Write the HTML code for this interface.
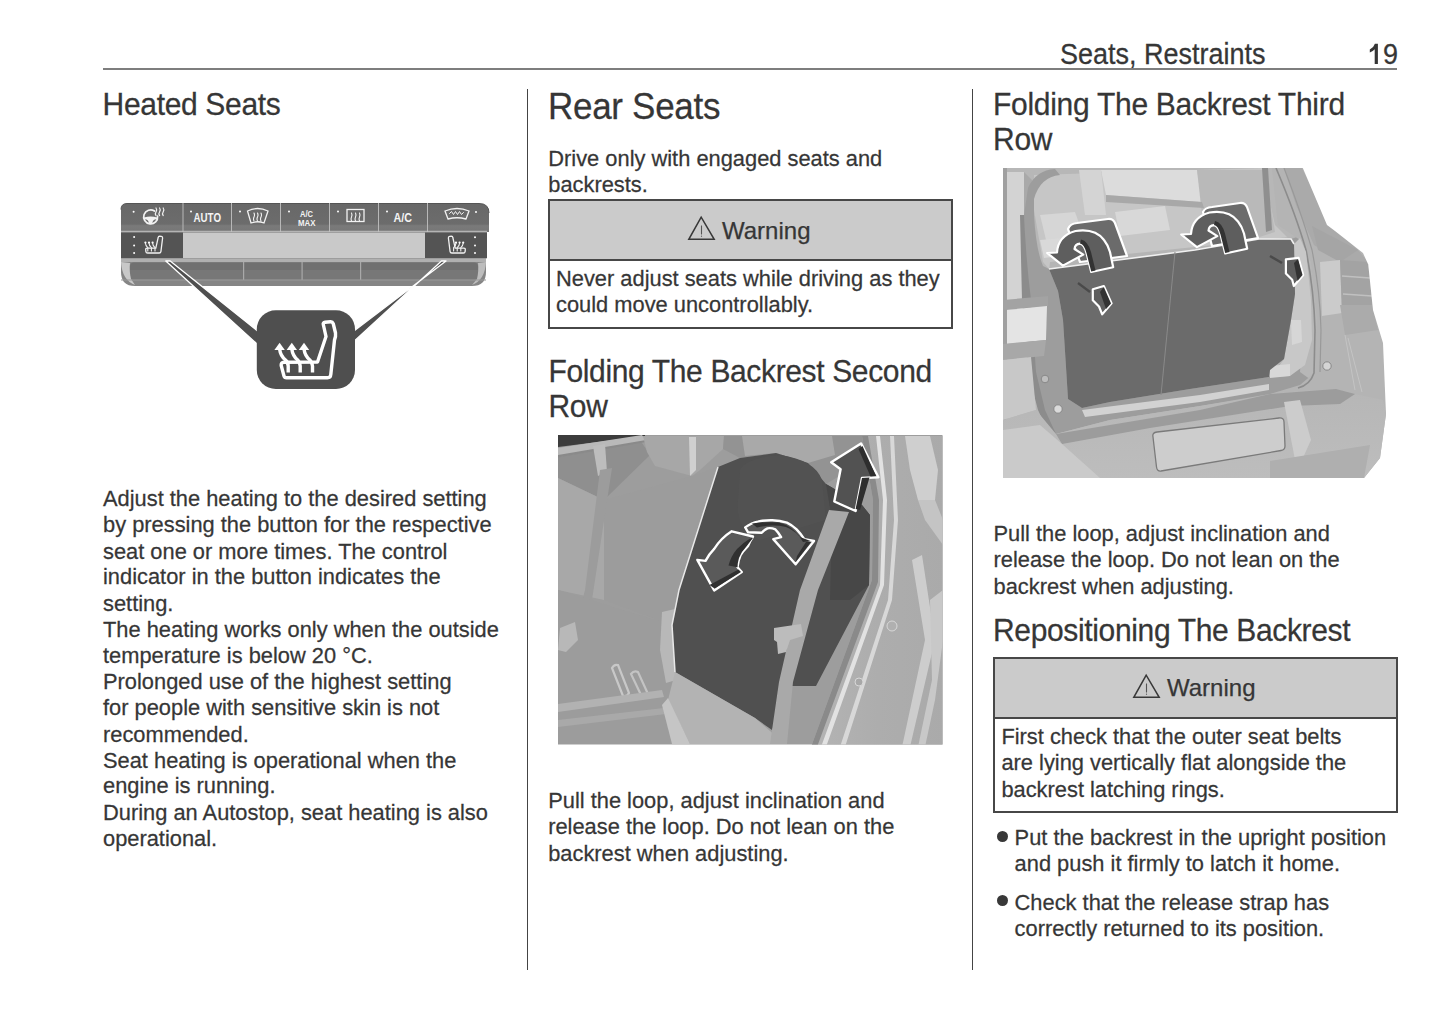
<!DOCTYPE html>
<html><head><meta charset="utf-8">
<style>
html,body{margin:0;padding:0;background:#fff;}
body{width:1445px;height:1018px;position:relative;overflow:hidden;font-family:"Liberation Sans",sans-serif;color:#363636;}
.a{position:absolute;white-space:pre;-webkit-text-stroke:0.25px #363636;}
.rule{position:absolute;background:#555;}
.wbox{position:absolute;border:2px solid #474747;box-sizing:border-box;}
.whead{position:absolute;left:0;right:0;top:0;background:#cbcbcb;border-bottom:2px solid #474747;box-sizing:border-box;}
.bul{position:absolute;width:11px;height:11px;border-radius:50%;background:#383838;}
svg{position:absolute;}
</style></head><body>
<div class="a" style="left:1060.00px;top:39.55px;font-size:27px;line-height:30.189px;transform:scaleY(1.06);transform-origin:0 24.45px;">Seats, Restraints</div>
<div class="a" style="left:1383.00px;top:39.55px;font-size:27px;line-height:30.189px;transform:scaleY(1.06);transform-origin:0 24.45px;">9</div>
<svg style="left:1360px;top:38px" width="30" height="30" viewBox="1360 38 30 30"><path d="M1374.9 43.8 L1377.9 43.8 L1377.9 63.9 L1374.7 63.9 L1374.7 49.2 Q1372.6 51.6 1369.8 52.6 L1369.8 49.6 Q1373.6 47.8 1374.9 43.8 Z" fill="#363636"/></svg>
<div class="rule" style="left:103px;top:68px;width:1294px;height:2px;background:#7e7e7e"></div>
<div class="rule" style="left:527px;top:89px;width:1px;height:881px;background:#444"></div>
<div class="rule" style="left:972px;top:89px;width:1px;height:881px;background:#444"></div>
<svg style="left:110px;top:195px" width="390" height="200" viewBox="110 195 390 200">
<defs>
<linearGradient id="btn" x1="0" y1="0" x2="0" y2="1"><stop offset="0" stop-color="#686868"/><stop offset="0.72" stop-color="#6c6c6c"/><stop offset="0.78" stop-color="#7a7a7a"/><stop offset="1" stop-color="#767676"/></linearGradient>
<linearGradient id="tray" x1="0" y1="0" x2="0" y2="1"><stop offset="0" stop-color="#a8a8a8"/><stop offset="0.12" stop-color="#9a9a9a"/><stop offset="0.14" stop-color="#6d6d6d"/><stop offset="0.45" stop-color="#6f6f6f"/><stop offset="0.55" stop-color="#7d7d7d"/><stop offset="0.75" stop-color="#777"/><stop offset="0.78" stop-color="#8a8a8a"/><stop offset="1" stop-color="#7e7e7e"/></linearGradient>
</defs>
<!-- tray -->
<path d="M121 258 H486 V272 Q486 286 472 286 H135 Q121 286 121 272 Z" fill="#858585"/>
<rect x="121" y="258.5" width="365" height="3.5" fill="#b0b0b0"/>
<rect x="130" y="262.5" width="348" height="17" rx="4" fill="#707070"/>
<rect x="130" y="270" width="348" height="9" fill="#777"/>
<path d="M121 262 Q122 280 135 285 L131 279 Q129 270 130 263 Z" fill="#c8c8c8"/>
<path d="M486 262 Q485 280 472 285 L477 279 Q479 270 478 263 Z" fill="#bdbdbd"/>
<rect x="243" y="262" width="1.2" height="18" fill="#a9a9a9"/>
<rect x="301.5" y="262" width="1.2" height="18" fill="#a9a9a9"/>
<rect x="360" y="262" width="1.2" height="18" fill="#a9a9a9"/>
<rect x="121" y="279.5" width="365" height="1" fill="#9a9a9a"/>
<!-- row2 -->
<rect x="121" y="231.5" width="366" height="27" fill="#9f9f9f"/>
<rect x="183" y="233" width="242" height="25" fill="#c9c9c9"/>
<rect x="121" y="232.5" width="62" height="25.5" fill="#545454"/>
<rect x="425" y="232.5" width="62" height="25.5" fill="#545454"/>
<!-- top row -->
<path d="M121 209.5 Q121 203.5 127 203.5 H479 Q489 203.5 489 213 V232 H121 Z" fill="url(#btn)"/>
<path d="M121 209.5 Q121 203.5 127 203.5 H479 Q489 203.5 489 213" fill="none" stroke="#555" stroke-width="1"/>
<g fill="#b8b8b8"><rect x="182.5" y="203" width="1" height="29"/><rect x="231" y="203" width="1" height="29"/><rect x="280" y="203" width="1" height="29"/><rect x="329" y="203" width="1" height="29"/><rect x="378" y="203" width="1" height="29"/><rect x="427" y="203" width="1" height="29"/></g>
<rect x="121" y="230.8" width="366" height="1" fill="#c4c4c4"/>
<!-- white glyphs top row -->
<g fill="#fff">
<circle cx="133.6" cy="211.8" r="1"/><circle cx="191" cy="211.5" r="1"/><circle cx="240" cy="211.5" r="1"/><circle cx="289" cy="211.5" r="1"/><circle cx="338" cy="211.5" r="1"/><circle cx="387" cy="211.5" r="1"/><circle cx="476" cy="212" r="1"/>
<circle cx="134.1" cy="237.1" r="1"/><circle cx="134.1" cy="245.4" r="1"/><circle cx="134.1" cy="253" r="1"/>
<circle cx="475" cy="237.2" r="1"/><circle cx="475" cy="245.4" r="1"/><circle cx="475" cy="253" r="1"/><circle cx="145.4" cy="242.6" r="1.1"/><circle cx="149" cy="242.6" r="1.1"/><circle cx="152.6" cy="242.6" r="1.1"/><circle cx="456" cy="242.6" r="1.1"/><circle cx="459.6" cy="242.6" r="1.1"/><circle cx="463.2" cy="242.6" r="1.1"/>
</g>
<g font-family="Liberation Sans" font-weight="bold" fill="#f4f4f4">
<text x="193.5" y="222" font-size="12" textLength="27.5" lengthAdjust="spacingAndGlyphs">AUTO</text>
<text x="300" y="216.8" font-size="9" textLength="13" lengthAdjust="spacingAndGlyphs">A/C</text>
<text x="298" y="225.6" font-size="9.5" textLength="17.5" lengthAdjust="spacingAndGlyphs">MAX</text>
<text x="393.5" y="222" font-size="12" textLength="18.5" lengthAdjust="spacingAndGlyphs">A/C</text>
</g>
<g fill="none" stroke="#f2f2f2" stroke-width="1.4" stroke-linecap="round">
<!-- steering wheel + heat -->
<path d="M154.5 211 A7 7 0 1 0 157.6 216" fill="none" stroke-width="1.7"/>
<path d="M144 217.6 Q150.6 215.6 157.2 217.6 L157 219.4 Q153 219 152 223.8 L149.2 223.8 Q148.2 219 144.2 219.4 Z" fill="#f2f2f2" stroke="none"/>
<path d="M156 208 q1.4 1.9 0 3.8 q-1.4 1.9 0 3.8 M159.6 208 q1.4 1.9 0 3.8 q-1.4 1.9 0 3.8 M163.2 208 q1.4 1.9 0 3.8 q-1.4 1.9 0 3.8" stroke-width="1.2"/>
<!-- windshield defrost -->
<path d="M247.5 211 Q257.5 206 268 211 L264 223 Q257.5 220.5 251 223 Z" stroke-width="1.3"/>
<path d="M254 213 q1 2 0 4 q-1 2 0 4 M257.5 213 q1 2 0 4 q-1 2 0 4 M261 213 q1 2 0 4 q-1 2 0 4" stroke-width="1.1"/>
<!-- rear defrost -->
<rect x="347" y="209.5" width="17" height="12" stroke-width="1.3"/>
<path d="M351.5 213 q1 2 0 4 q-1 2 0 4 M355.5 213 q1 2 0 4 q-1 2 0 4 M359.5 213 q1 2 0 4 q-1 2 0 4" stroke-width="1.1"/>
<!-- windshield airflow -->
<path d="M445 211 Q457 206 469 211 L466 219 Q457 216.5 448 219 Z" stroke-width="1.3"/>
<path d="M449.5 213.5 l2 -2 l2 3 l2 -3 l2 3 l2 -3 l2 3 l2 -2" stroke-width="1"/>
<!-- left seat heat small -->
<path d="M158.2 237.5 Q158.3 236.2 159.6 236.2 L161.4 236.3 Q162.7 236.5 162.6 238 L160.9 251.6 Q160.7 253 159.2 253 H147.6 Q146.1 253 145.9 251.6 L145.7 249.6 Q145.6 248.1 147.1 248.1 H155.8 Z" stroke-width="1.3"/>
<path d="M145.4 243 q.2 3 2.4 4.6 M149 243 q.2 3 2.4 4.6 M152.6 243 q.2 3 2.4 4.6 M147.8 248 V251 M151.4 248 V251 M155 248 V251" stroke-width="1.1"/>
<!-- right seat heat small (mirrored) -->
<path d="M452.8 237.5 Q452.7 236.2 451.4 236.2 L449.6 236.3 Q448.3 236.5 448.4 238 L450.1 251.6 Q450.3 253 451.8 253 H463.4 Q464.9 253 465.1 251.6 L465.3 249.6 Q465.4 248.1 463.9 248.1 H455.2 Z" stroke-width="1.3"/>
<path d="M456 243 q-.2 3 -2.4 4.6 M459.6 243 q-.2 3 -2.4 4.6 M463.2 243 q-.2 3 -2.4 4.6 M453.6 248 V251 M457.2 248 V251 M460.8 248 V251" stroke-width="1.1"/>
</g>
<!-- callout wedges -->
<path d="M165.8 261 L170.2 261 L262 334.5 L262 348.5 Z" fill="#4f4f4f" stroke="#fff" stroke-width="1.3" stroke-linejoin="round"/>
<path d="M441.5 261 L446 261 L350 334 L350 345 Z" fill="#4f4f4f" stroke="#fff" stroke-width="1.3" stroke-linejoin="round"/>
<!-- callout box -->
<rect x="256.8" y="310.3" width="98.2" height="78.7" rx="19" fill="#4f4f4f"/>
<g fill="none" stroke="#fff" stroke-width="3.4" stroke-linejoin="round" stroke-linecap="butt">
<path d="M323.3 324.5 Q322.8 322.5 325 322.3 L330.5 321.8 Q332.5 321.7 333.2 323.5 L335.5 333 Q336 336.5 334.5 340 L330.8 374.5 Q330.6 377.8 327.5 377.8 H286.5 Q284.5 377.8 284 376 L281.2 365.5 Q280.8 362.3 284 362.2 L317.5 362 L326 336.5 Z"/>
<path d="M279.6 349 Q280.5 356 285.5 360 Q288.2 362.5 288.2 366 V372.5"/>
<path d="M291.8 349 Q292.7 356 297.7 360 Q300.2 362.5 300.2 366 V372.5"/>
<path d="M304 349 Q304.9 356 309.9 360 Q312.5 362.5 312.5 366 V372.5"/>
</g>
<g fill="#fff">
<path d="M279.6 342.8 L274.4 350 H284.8 Z"/>
<path d="M291.8 342.8 L286.6 350 H297 Z"/>
<path d="M304 342.8 L298.8 350 H309.2 Z"/>
</g>
</svg>

<div class="a" style="left:102.60px;top:87.91px;font-size:30px;line-height:33.981px;transform:scaleY(1.03);transform-origin:0 27.39px;letter-spacing:-0.33px;">Heated Seats</div>
<div class="a" style="left:103.00px;top:485.52px;font-size:21.85px;line-height:25.408px;transform:scaleY(1.03);transform-origin:0 20.28px;">Adjust the heating to the desired setting
by pressing the button for the respective
seat one or more times. The control
indicator in the button indicates the
setting.
The heating works only when the outside
temperature is below 20 °C.
Prolonged use of the highest setting
for people with sensitive skin is not
recommended.
Seat heating is operational when the
engine is running.
During an Autostop, seat heating is also
operational.</div>
<svg style="left:555px;top:432px" width="390" height="315" viewBox="555 432 390 315">
<defs>
<clipPath id="c2"><rect x="558" y="435" width="384.5" height="309.5"/></clipPath>
<linearGradient id="g2seat" x1="0" y1="0" x2="1" y2="0"><stop offset="0" stop-color="#a3a3a3"/><stop offset="1" stop-color="#a9a9a9"/></linearGradient>
<linearGradient id="g2door" x1="0" y1="0" x2="1" y2="0"><stop offset="0" stop-color="#b4b4b4"/><stop offset="0.5" stop-color="#adadad"/><stop offset="1" stop-color="#aaaaaa"/></linearGradient>
</defs>
<g clip-path="url(#c2)">
<rect x="555" y="432" width="390" height="315" fill="#9d9d9d"/>
<!-- left seat upper shadow -->
<path d="M558 456 L640 440 L650 455 L604 500 L558 478 Z" fill="#8f8f8f"/>
<path d="M558 478 L604 500 L604 600 L558 590 Z" fill="#a8a8a8"/>
<!-- window dark top-left -->
<path d="M555 432 L645 432 L645 436 L558 447 Z" fill="#3c3c3c"/>
<!-- rod -->
<path d="M558 448 L642 435 L646 441 L558 457 Z" fill="#b9b9b9"/>
<path d="M558 455 L646 440 L646 442 L558 457.5 Z" fill="#8a8a8a"/>
<!-- left headrest post -->
<path d="M593 446 L605 444 L607 472 L598 476 Z" fill="#bdbdbd"/>
<!-- center headrest -->
<path d="M643 436 L724 436 L723 449 L700 470 L692 476 L655 466 L647 452 Z" fill="#a7a7a7"/>
<path d="M689 437 L696 437 L696 470 L690 476 Z" fill="#d0d0d0"/>
<!-- region right of headrest -->
<path d="M724 436 L866 436 L866 460 L826 484 L808 463 L776 453 L740 458 L723 449 Z" fill="#939393"/>
<path d="M742 436 L832 436 L835 455 L808 463 L776 453 L745 456 Z" fill="#a9a9a9"/>
<!-- center seat back -->
<path d="M604 500 L692 476 L718 467 L679 590 L672 625 L604 600 Z" fill="#9c9c9c"/>
<!-- left belt -->
<path d="M600 470 L612 468 L592 600 L580 640 L572 640 L585 590 Z" fill="#9c9c9c"/>
<path d="M573 615 L595 605 L597 612 L576 622 Z" fill="#c8c8c8"/>
<!-- lower left cushions -->
<path d="M558 590 L672 625 L675 672 L700 690 L700 744 L558 744 Z" fill="#9c9c9c"/>

<path d="M612 668 Q614 664 618 665 L629 693 Q627 697 623 696 Z" fill="none" stroke="#c8c8c8" stroke-width="2.2"/>
<path d="M631 674 Q634 670 638 672 L648 694 Q646 698 642 697 Z" fill="none" stroke="#c3c3c3" stroke-width="2.2"/>
<path d="M558 704 L662 690 L664 697 L558 712 Z" fill="#b2b2b2"/>
<path d="M558 720 L664 708 L666 714 L558 727 Z" fill="#a9a9a9"/>
<path d="M560 628 L575 622 L578 640 L566 652 L558 650 Z" fill="#b8b8b8"/>
<!-- buckle housing left of dark seat -->
<path d="M662 612 L675 609 L680 620 L676 680 L666 683 L660 650 Z" fill="#b8b8b8"/>
<!-- dark seat -->
<path d="M718 467 L740 458 L776 453 L808 463 L826 484 L862 505 L870 515 L869 585 L816 686 L790 686 L772 730 L755 718 L675 672 L672 625 L679 590 Z" fill="#505050"/>
<path d="M718 467 L679 590 L672 625 L675 672" fill="none" stroke="#e8e8e8" stroke-width="1.5"/>
<!-- headrest of dark seat slightly lighter contour -->
<path d="M740 470 Q745 458 780 455 Q815 460 822 480 L826 520 L760 540 Q735 530 738 500 Z" fill="#525252"/>
<path d="M826 484 L862 505 L870 515 L869 585 L850 600 L830 600 L832 520 Z" fill="#474747"/>
<!-- cushion under dark seat -->
<path d="M675 672 L755 718 L785 744 L690 744 L668 700 Z" fill="#b3b3b3"/>
<path d="M668 698 L690 744 L672 744 L662 705 Z" fill="#c5c5c5"/>
<!-- belt strap -->
<path d="M829 510 L849 512 L818 590 L793 682 L787 744 L770 744 L779 682 L800 590 Z" fill="#a9a9a9"/>
<path d="M774 628 L801 624 L803 636 L790 640 L786 652 L778 654 L777 642 L774 640 Z" fill="#bcbcbc"/>
<!-- door pillar -->
<path d="M862 436 L945 436 L945 747 L811 747 L872 580 L873 500 Z" fill="url(#g2door)"/>
<path d="M862 436 L873 500 L872 580 L811 747 L817 747 L878 582 L879 500 L868 436 Z" fill="#8a8a8a"/>
<path d="M876 436 L880 436 L887 500 L884 585 L826 747 L821 747 L880 585 L883 500 Z" fill="#e2e2e2"/>
<path d="M890 436 L894 436 L898 520 L892 600 L845 747 L840 747 L888 600 L894 520 Z" fill="#d8d8d8"/>
<path d="M905 436 L930 436 L938 470 L935 500 L918 500 L910 470 Z" fill="#cfcfcf"/>
<path d="M918 500 L935 500 L943 520 L943 545 L925 520 Z" fill="#c4c4c4"/>
<path d="M912 560 L922 555 L935 640 L910 747 L902 747 L925 640 Z" fill="#cdcdcd"/>
<path d="M930 600 L943 590 L943 640 L935 700 L925 747 L918 747 L932 680 Z" fill="#c8c8c8"/>
<circle cx="892" cy="626" r="5" fill="#b0b0b0" stroke="#d8d8d8" stroke-width="1"/>
<circle cx="859" cy="682" r="4" fill="#a8a8a8" stroke="#d8d8d8" stroke-width="1"/>
<!-- arrows -->
<g stroke="#fff" stroke-width="2.4" stroke-linejoin="round">
<path d="M861 443.4 L878.4 477.2 L862 478 L855.6 511 L834.3 501.5 L840.6 469.3 L831.2 462.2 Z" fill="#525252"/>
<path d="M714.2 590.4 L697.3 559.9 L705.5 560.9 Q709 554 714.2 548.8 Q718 543 722 539 Q726 535 731.7 531.3 L753 536.5 Q750 541 748.1 545.9 Q743 551 740.4 555.5 Q738 561 737.5 567.2 L741.8 572 Z" fill="#5a5a5a"/>
<path d="M745.2 527.4 Q752 522.5 757.8 521.6 Q765 520 772.4 520.2 Q780 520.5 786.9 522.6 Q792 525 796.6 529.4 Q801 534 804.3 539.1 L814 541 L795.6 564.3 L773.3 539.1 L781.1 537.1 Q778 532 775.3 529.4 Q771 527.5 767.5 528.4 Q764 530 761.7 532.8 L748.1 532.3 Z" fill="#5a5a5a"/>
</g>
<path d="M862.5 446 L876 476 L870.5 476.5 L858.5 449 Z" fill="#2e2e2e"/>
<path d="M862 478 L869.5 477.5 L860 510 L855.6 509 Z" fill="#2e2e2e"/>



<path d="M709.5 585 L738.5 569.5 L741 572 L714.5 588.5 Z" fill="#303030"/>
<path d="M728.5 565.5 Q731 556 737 549 Q744 542 751.5 537.5 L753 538 Q749 543 746 547 Q741 552 739 558 Q737.5 563 737.5 567.2 Z" fill="#303030"/>
<path d="M752 523.5 Q765 521.5 779 522.5 Q792 526 800 537 L810.5 541 L803 542 Q797 531 786 527 Q772 524 757 527.5 Z" fill="#303030"/>
<path d="M811 542 L795.6 562 L797 556 L806 542 Z" fill="#303030"/>
</g>
</svg>

<div class="a" style="left:548.00px;top:87.62px;font-size:35px;line-height:38.095px;transform:scaleY(1.05);transform-origin:0 31.18px;letter-spacing:-0.3px;">Rear Seats</div>
<div class="a" style="left:548.30px;top:145.52px;font-size:21.85px;line-height:25.408px;transform:scaleY(1.03);transform-origin:0 20.28px;">Drive only with engaged seats and
backrests.</div>
<div class="wbox" style="left:548px;top:199px;width:405px;height:130px;"><div class="whead" style="height:59.5px;"></div></div>
<div class="a" style="left:556.00px;top:266.22px;font-size:21.85px;line-height:25.408px;transform:scaleY(1.03);transform-origin:0 20.28px;">Never adjust seats while driving as they
could move uncontrollably.</div>
<svg style="left:686px;top:214px" width="32" height="28" viewBox="0 0 32 28"><path d="M15.2 3.2 L2.8 25.3 L28.2 25.3 Z" fill="none" stroke="#383838" stroke-width="1.5" stroke-linejoin="miter"/><path d="M15.5 11.5 V20.5" stroke="#555" stroke-width="1.1"/><circle cx="15.5" cy="22.2" r="0.6" fill="#555"/></svg>
<div class="a" style="left:722.00px;top:215.78px;font-size:24px;line-height:30.000px;transform:scaleY(1.0);transform-origin:0 23.32px;">Warning</div>
<div class="a" style="left:548.50px;top:355.41px;font-size:30px;line-height:33.981px;transform:scaleY(1.03);transform-origin:0 27.39px;letter-spacing:-0.36px;">Folding The Backrest Second
Row</div>
<div class="a" style="left:548.20px;top:787.62px;font-size:21.85px;line-height:25.408px;transform:scaleY(1.03);transform-origin:0 20.28px;">Pull the loop, adjust inclination and
release the loop. Do not lean on the
backrest when adjusting.</div>
<svg style="left:1000px;top:165px" width="390" height="316" viewBox="1000 165 390 316">
<defs>
<clipPath id="c3"><rect x="1003" y="168" width="383" height="310"/></clipPath>
<linearGradient id="g3b" x1="0" y1="0" x2="0" y2="1"><stop offset="0" stop-color="#b6b6b6"/><stop offset="1" stop-color="#bdbdbd"/></linearGradient>
</defs>
<g clip-path="url(#c3)">
<rect x="1000" y="165" width="390" height="316" fill="#b7b7b7"/>
<!-- interior through opening -->
<path d="M1034 175 L1262 168 L1275 225 L1294 244 L1049 269 L1043 262 L1034 210 Z" fill="#c6c6c6"/>
<path d="M1040 215 L1075 212 L1085 240 L1048 248 Z" fill="#d6d6d6"/>
<path d="M1040 240 L1100 235 L1105 250 L1044 258 Z" fill="#d9d9d9"/>
<path d="M1115 212 L1165 206 L1170 230 L1120 236 Z" fill="#d8d8d8"/>
<path d="M1079 170 L1101 170 L1106 215 L1085 215 Z" fill="#d4d4d4"/>
<path d="M1101 170 L1197 170 L1202 202 L1106 195 Z" fill="#dcdcdc"/>
<path d="M1197 170 L1265 170 L1275 232 L1250 240 L1202 215 Z" fill="#b9b9b9"/>
<path d="M1106 195 L1202 202 L1204 208 L1106 202 Z" fill="#a8a8a8"/>
<path d="M1050 262 L1300 236 L1300 246 L1049 272 Z" fill="#b5b5b5"/>
<path d="M1262 168 L1268 168 L1272 230 L1266 232 Z" fill="#8f8f8f"/>
<!-- left strip -->
<path d="M1003 168 L1007 168 L1007 478 L1003 478 Z" fill="#a0a0a0"/>
<path d="M1007 172 L1024 172 L1024 300 L1007 302 Z" fill="#d3d3d3"/>
<path d="M1024 172 L1032 180 L1028 300 L1024 300 Z" fill="#a9a9a9"/>
<!-- opening rim (left arc + down) -->
<path d="M1028 188 Q1036 170 1055 169 L1060 175 Q1040 177 1034 199 L1034 215 Q1036 250 1043 266 L1049 269 L1058 291 L1063 320 L1066 367 L1068 399 L1082 408 L1110 402 L1190 389 L1269 377 L1284 359 L1291 320 L1295 294 L1294 244 L1291 239 L1300 236 L1305 300 L1300 372 L1318 385 L1290 392 L1200 406 L1110 420 L1056 434 L1040 410 L1031 372 L1026 300 L1024 215 Z" fill="#9d9d9d"/>
<path d="M1024 215 Q1026 260 1031 300 L1036 372 L1045 410 L1056 434 L1050 436 L1038 410 L1028 372 L1022 300 L1020 215 Z" fill="#8c8c8c"/>
<!-- tail light left -->
<path d="M1003 300 L1048 296 L1048 306 L1003 310 Z" fill="#a3a3a3"/>
<path d="M1007 310 L1047 306 L1046 340 L1007 344 Z" fill="#e4e4e4"/>
<path d="M1003 344 L1046 340 L1044 356 L1003 360 Z" fill="#a8a8a8"/>
<path d="M1003 360 L1031 357 L1036 410 L1003 420 Z" fill="#c8c8c8"/>
<!-- right body -->
<path d="M1272 168 L1302 168 L1327 225 L1363 253 L1368 262 L1373 310 L1383 343 L1386 414 L1380 458 L1364 478 L1280 478 L1284 402 L1270 394 L1300 385 L1314 373 L1317 320 L1311 262 L1300 240 L1278 225 Z" fill="#b4b4b4"/>
<path d="M1284 168 L1302 168 L1328 223 L1358 250 L1368 262 L1340 262 L1314 245 L1296 205 Z" fill="#aaaaaa"/>
<path d="M1312 226 L1358 250 L1340 262 L1318 250 Z" fill="#a5a5a5"/>
<path d="M1276 168 Q1296 215 1306 250 Q1314 290 1315 330 L1314 373 Q1310 385 1298 388" fill="none" stroke="#8c8c8c" stroke-width="1.6"/>
<path d="M1284 168 Q1302 215 1312 250 Q1320 290 1321 330 L1320 372" fill="none" stroke="#999" stroke-width="1.2"/>
<path d="M1294 244 L1300 238 L1306 252 L1311 300 L1312 340 L1305 365 L1290 376 L1270 377 L1284 359 L1291 320 L1295 294 Z" fill="#c8c8c8"/>
<path d="M1291 320 L1301 320 L1302 342 L1292 345 Z" fill="#d6d6d6"/>
<path d="M1270 366 L1290 364 L1290 376 L1270 378 Z" fill="#d8d8d8"/>
<path d="M1320 262 L1340 260 L1342 313 L1322 316 Z" fill="#cbcbcb"/>
<path d="M1340 260 L1368 262 L1373 310 L1342 313 Z" fill="#a3a3a3"/>
<path d="M1342 276 L1370 278 M1343 294 L1372 296" stroke="#c0c0c0" stroke-width="1.5"/>
<path d="M1340 305 L1372 305 L1378 330 L1345 335 Z" fill="#ababab"/>
<path d="M1345 335 L1355 390 M1348 338 L1362 392" stroke="#c4c4c4" stroke-width="1"/>
<!-- white cutouts -->
<path d="M1302 166 L1390 166 L1390 264 L1368 264 L1363 253 L1335 231 L1327 225 Z" fill="#fff"/>
<path d="M1368 262 L1390 262 L1390 481 L1364 481 L1364 478 L1380 458 L1386 414 L1383 343 L1373 310 Z" fill="#fff"/>
<!-- bumper -->
<path d="M1003 420 L1036 410 L1056 434 L1110 420 L1200 406 L1270 394 L1290 392 L1336 389 L1355 394 L1383 400 L1386 414 L1380 458 L1364 478 L1003 478 Z" fill="url(#g3b)"/>
<path d="M1056 434 L1200 410 L1270 394 L1336 389 L1355 394 L1340 404 L1290 406 L1150 428 L1062 444 Z" fill="#9c9c9c"/>
<path d="M1003 430 L1040 425 L1062 444 L1100 478 L1003 478 Z" fill="#cacaca"/>
<path d="M1284 402 L1300 400 L1311 440 L1302 460 L1295 460 Z" fill="#cccccc"/>
<path d="M1270 461 L1370 445 L1364 478 L1270 478 Z" fill="#afafaf"/>
<!-- plate -->
<path d="M1153 437 Q1152 432.5 1157 432 L1279 418 Q1284 417.5 1284 422 L1285 446 Q1285 450 1281 450.5 L1161 471 Q1157 471.5 1156.5 467 Z" fill="#cdcdcd" stroke="#7a7a7a" stroke-width="1.3"/>
<!-- sensors -->
<circle cx="1045" cy="379" r="3.8" fill="#bdbdbd" stroke="#888" stroke-width="1"/>
<circle cx="1058" cy="409" r="4.2" fill="#dadada" stroke="#888" stroke-width="1"/>
<circle cx="1327" cy="366" r="4.2" fill="#d4d4d4" stroke="#888" stroke-width="1"/>

<!-- ledge -->
<path d="M1082 410 L1200 395 L1269 384 L1269 390 L1200 402 L1085 417 Z" fill="#d2d2d2"/>
<!-- dark seat back -->
<path d="M1049 269 L1195 250 L1259 239 L1291 239 L1294 244 L1295 294 L1291 320 L1284 359 L1270 370 L1269 377 L1190 389 L1110 402 L1082 408 L1068 399 L1066 367 L1063 320 L1058 291 Z" fill="#6b6b6b"/>
<path d="M1049 269 L1195 250 L1259 239 L1291 239 L1294 244" fill="none" stroke="#f0f0f0" stroke-width="1.6"/>
<path d="M1175 252 L1161 395" stroke="#8a8a8a" stroke-width="1"/>
<!-- headrests + arrows -->
<g stroke="#fff" stroke-width="2.2" stroke-linejoin="round">
<path d="M1068 229 Q1070 223.5 1077 223 L1108 219 Q1113 218.5 1115 223 L1127 256 L1080 262 Z" fill="#6b6b6b"/>
<path d="M1203 212 Q1205 207.5 1212 207 L1240 203 Q1245 202.5 1247 207 L1258 238 L1212 246 Z" fill="#6b6b6b"/>
<path d="M1062.9 265.6 L1047.2 253 L1057 252.5 Q1058 236 1075.5 231 Q1095 228 1104 240 Q1108 245 1110 252 L1113.2 267.2 L1091.2 272 L1086.5 253 Q1084 244 1080 243.6 Q1075 244 1074.5 249 L1083.3 254.6 Z" fill="#5e5e5e"/>
<path d="M1062.9 265.6 L1047.2 253 L1057 252.5 Q1058 236 1075.5 231 Q1095 228 1104 240 Q1108 245 1110 252 L1113.2 267.2 L1091.2 272 L1086.5 253 Q1084 244 1080 243.6 Q1075 244 1074.5 249 L1083.3 254.6 Z" fill="#5e5e5e" transform="translate(134,-18.5)"/>
<path d="M1092.8 289.2 L1103.8 286 L1111.6 303.4 L1102.2 314.4 L1099 306.5 L1092.8 300.2 Z" fill="#5e5e5e"/>
<path d="M1285.9 259.3 L1298.5 257.8 L1303.2 275 L1293.8 286 L1292.2 279.8 L1285.9 273.5 Z" fill="#5e5e5e"/>
</g>
<path d="M1080 243.6 Q1084 244 1086.5 253 L1091.2 271.5 L1095.5 270.5 L1091 252 Q1088 241 1081 239.5 Z" fill="#333"/>
<path d="M1080 243.6 Q1084 244 1086.5 253 L1091.2 271.5 L1095.5 270.5 L1091 252 Q1088 241 1081 239.5 Z" fill="#333" transform="translate(134,-18.5)"/>
<path d="M1103.8 287 L1111 303.4 L1106 309 L1100 292 Z" fill="#333"/>
<path d="M1298 259 L1302.5 275 L1297.5 281 L1294 263 Z" fill="#333"/>
<path d="M1078 283 L1090 292" stroke="#4a4a4a" stroke-width="2.2"/>
<path d="M1270 256 L1282 263" stroke="#4a4a4a" stroke-width="2.6"/>
</g>
</svg>

<div class="a" style="left:993.00px;top:87.71px;font-size:30px;line-height:33.981px;transform:scaleY(1.03);transform-origin:0 27.39px;letter-spacing:-0.28px;">Folding The Backrest Third
Row</div>
<div class="a" style="left:993.50px;top:520.62px;font-size:21.85px;line-height:25.408px;transform:scaleY(1.03);transform-origin:0 20.28px;">Pull the loop, adjust inclination and
release the loop. Do not lean on the
backrest when adjusting.</div>
<div class="a" style="left:993.00px;top:613.91px;font-size:30px;line-height:33.981px;transform:scaleY(1.03);transform-origin:0 27.39px;letter-spacing:-0.35px;">Repositioning The Backrest</div>
<div class="wbox" style="left:993px;top:657px;width:405px;height:156px;"><div class="whead" style="height:59.5px;"></div></div>
<svg style="left:1131px;top:672px" width="32" height="28" viewBox="0 0 32 28"><path d="M15.2 3.2 L2.8 25.3 L28.2 25.3 Z" fill="none" stroke="#383838" stroke-width="1.5" stroke-linejoin="miter"/><path d="M15.5 11.5 V20.5" stroke="#555" stroke-width="1.1"/><circle cx="15.5" cy="22.2" r="0.6" fill="#555"/></svg>
<div class="a" style="left:1167.00px;top:673.28px;font-size:24px;line-height:30.000px;transform:scaleY(1.0);transform-origin:0 23.32px;">Warning</div>
<div class="a" style="left:1001.40px;top:723.82px;font-size:21.85px;line-height:25.408px;transform:scaleY(1.03);transform-origin:0 20.28px;">First check that the outer seat belts
are lying vertically flat alongside the
backrest latching rings.</div>
<div class="bul" style="left:996.8px;top:830.6px;"></div>
<div class="a" style="left:1014.60px;top:825.32px;font-size:21.85px;line-height:25.408px;transform:scaleY(1.03);transform-origin:0 20.28px;">Put the backrest in the upright position
and push it firmly to latch it home.</div>
<div class="bul" style="left:996.8px;top:895.1px;"></div>
<div class="a" style="left:1014.60px;top:889.82px;font-size:21.85px;line-height:25.408px;transform:scaleY(1.03);transform-origin:0 20.28px;">Check that the release strap has
correctly returned to its position.</div>
</body></html>
